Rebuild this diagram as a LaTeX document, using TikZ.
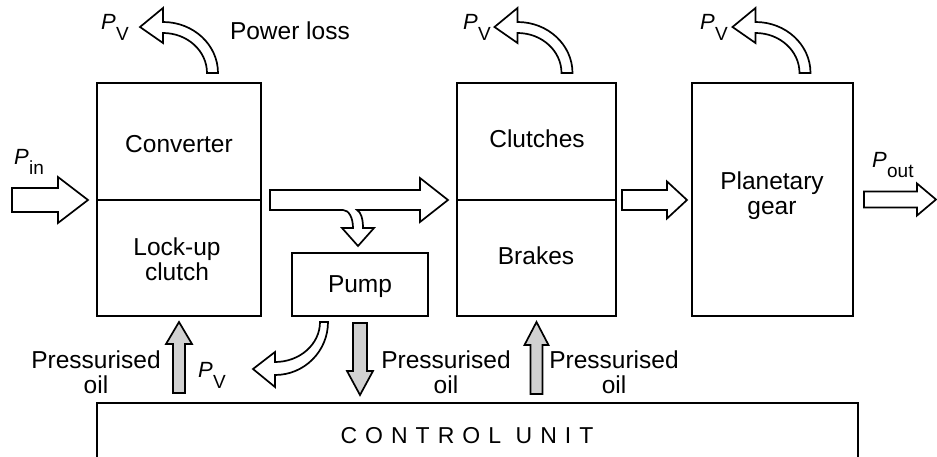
\documentclass[tikz,border=0pt]{standalone}
\usepackage{fontspec}
\setmainfont{Liberation Sans}
\usetikzlibrary{calc}
\newcommand\Ps[2]{{\fontsize{22}{22}\selectfont\itshape P}\kern0.5pt\raisebox{-#2pt}{\fontsize{19}{19}\selectfont #1}}
\newcommand\hblk[6]{\draw[#1] (#2) -- ($(#2)+(-#6,-#5)$) -- ($(#2)+(-#6,-#4)$) -- ($(#3)+(0,-#4)$) -- ($(#3)+(0,#4)$) -- ($(#2)+(-#6,#4)$) -- ($(#2)+(-#6,#5)$) -- cycle;}
\newcommand\vblk[6]{\draw[#1] (#2) -- ($(#2)+(#5,#6)$) -- ($(#2)+(#4,#6)$) -- ($(#3)+(#4,0)$) -- ($(#3)+(-#4,0)$) -- ($(#2)+(-#4,#6)$) -- ($(#2)+(-#5,#6)$) -- cycle;}
\begin{document}
\begin{tikzpicture}[x=1pt,y=-1pt,
 box/.style={draw, line width=2.9pt, inner sep=0pt, outer sep=0pt},
 hollow/.style={draw, line width=1.7pt, fill=white, line join=miter, miter limit=10},
 oil/.style={draw, line width=1.7pt, fill=black!18, line join=miter, miter limit=10},
 lbl/.style={font=\fontsize{24.5}{25}\selectfont, inner sep=0pt, outer sep=0pt},
 lossarrow/.pic={\draw[hollow] (28,-10) -- (39,-10) .. controls (39,-38.2) and (14.4,-61) .. (-16,-61) -- (-16,-75) -- (-39,-56) -- (-16,-40) -- (-16,-50) .. controls (8.3,-50) and (28,-32.1) .. (28,-10) -- cycle;}]
\useasboundingbox (0,0) rectangle (937,457);
\clip (0,0) rectangle (937,457);
\fill[white] (0,0) rectangle (937,457);
% boxes
\node[box, minimum width=164, minimum height=117] (conv) at (179,141.5) {};
\node[box, minimum width=164, minimum height=116] (lock) at (179,258) {};
\node[box, minimum width=136, minimum height=63] (pump) at (360,284.5) {};
\node[box, minimum width=159, minimum height=117] (clutch) at (536.5,141.5) {};
\node[box, minimum width=159, minimum height=116] (brake) at (536.5,258) {};
\node[box, minimum width=161, minimum height=233] (planet) at (772.5,199.5) {};
\node[box, minimum width=761, minimum height=90] (ctrl) at (477.5,448) {};
% box texts
\node[lbl, anchor=base] (tconv) at (179,153) {Converter};
\node[lbl, align=center] (tlock) at (177,259) {Lock-up\\clutch};
\node[lbl, anchor=base] (tpump) at (360,292) {Pump};
\node[lbl, anchor=base] (tclutch) at (537,148) {Clutches};
\node[lbl, anchor=base] (tbrake) at (536,265) {Brakes};
\node[lbl, align=center] (tplanet) at (772,196) {Planetary\\gear};
\node[lbl, anchor=base] (tctrl) at (467,443) {\fontsize{23}{25}\selectfont\addfontfeatures{LetterSpace=35}CONTROL UNIT};
% input arrow
\coordinate (inT) at ($(conv.south west)+(-9,0)$);
\coordinate (inS) at ($(inT)+(-76,0)$);
\hblk{hollow}{inT}{inS}{12}{23}{30}
% main arrow with branch to pump
\coordinate (mA) at ($(lock.north east)+(9,0)$);
\coordinate (mB) at ($(brake.north west)+(-9,0)$);
\coordinate (br) at ($(pump.north)+(-2,-7)$);
\draw[hollow] ($(mA)+(0,-10)$) -- ($(mB)+(-28,-10)$) -- ($(mB)+(-28,-22)$) -- (mB) -- ($(mB)+(-28,22)$) -- ($(mB)+(-28,10)$) -- ($(br)+(-1,-36)$) .. controls ($(br)+(3,-34)$) and ($(br)+(5,-27)$) .. ($(br)+(5,-18)$) -- ($(br)+(16,-18)$) -- (br) -- ($(br)+(-16,-18)$) -- ($(br)+(-5,-18)$) .. controls ($(br)+(-5,-28)$) and ($(br)+(-9,-36)$) .. ($(br)+(-15,-36)$) -- ($(mA)+(0,10)$) -- cycle;
% clutches -> planetary
\coordinate (cpT) at ($(brake.north east -| planet.west)+(-5,0)$);
\coordinate (cpS) at ($(brake.north east)+(6,0)$);
\hblk{hollow}{cpT}{cpS}{10}{18.5}{20}
% output
\coordinate (oS) at ($(planet.east)+(11,0)$);
\coordinate (oT) at ($(oS)+(72,0)$);
\hblk{hollow}{oT}{oS}{8}{16}{19}
% pressurised oil arrows
\coordinate (gA) at ($(lock.south)+(0,6)$);
\coordinate (gAb) at ($(ctrl.north -| lock.south)+(0,-10)$);
\vblk{oil}{gA}{gAb}{6}{13}{22}
\coordinate (gP) at ($(pump.south)+(0,7)$);
\coordinate (gPt) at ($(ctrl.north -| pump.south)+(0,-8)$);
\vblk{oil}{gPt}{gP}{7}{13}{-24}
\coordinate (gB) at ($(brake.south)+(0,6)$);
\coordinate (gBb) at ($(ctrl.north -| brake.south)+(0,-9)$);
\vblk{oil}{gB}{gBb}{6}{12}{23}
% power loss arrows
\pic at (conv.north) {lossarrow};
\pic at ($(clutch.north)+(-3,0)$) {lossarrow};
\pic at ($(planet.north)+(-1,0)$) {lossarrow};
\begin{scope}[shift={(pump.south)}]
\draw[hollow] (-40,6) -- (-32,6) .. controls (-32,35.3) and (-55.7,59) .. (-85,59) -- (-85,71) -- (-107,53) -- (-85,36) -- (-85,46) .. controls (-60.1,46) and (-40,28.1) .. (-40,6) -- cycle;
\end{scope}
% labels
\node[lbl, anchor=base west] (pv1) at (101,30) {\Ps{V}{11}};
\node[lbl, anchor=base west] (pv2) at (463,30) {\Ps{V}{11}};
\node[lbl, anchor=base west] (pv3) at (700,30) {\Ps{V}{11}};
\node[lbl, anchor=base west] (pv4) at (198,377) {\Ps{V}{11}};
\node[lbl, anchor=base west] (pin) at (14,165) {\Ps{in}{10}};
\node[lbl, anchor=base west] (pout) at (872,168) {\Ps{out}{10}};
\node[lbl, anchor=base west] (ploss) at (230,40) {Power loss};
\node[lbl, align=center] (po1) at (96,372.5) {Pressurised\\oil};
\node[lbl, align=center] (po2) at (446,372.5) {Pressurised\\oil};
\node[lbl, align=center] (po3) at (614,372.5) {Pressurised\\oil};
\end{tikzpicture}
\end{document}
